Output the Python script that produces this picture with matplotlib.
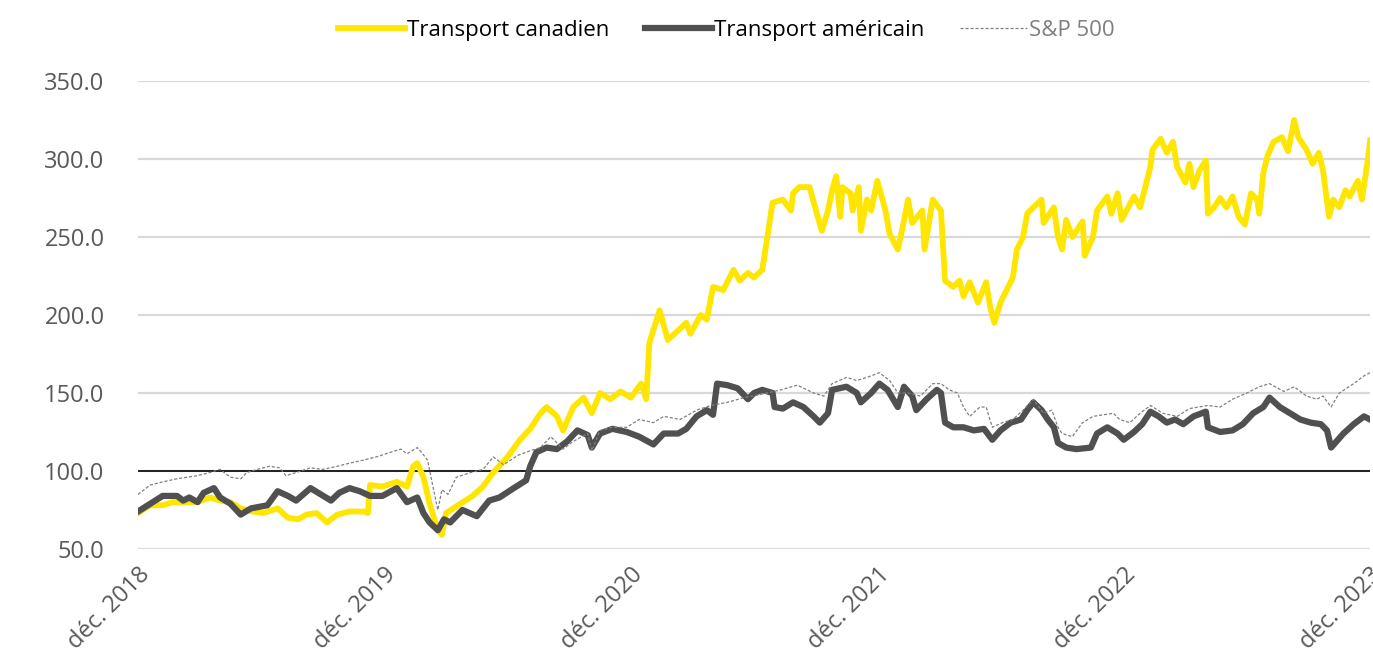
import pandas as pd
import matplotlib.pyplot as plt
import matplotlib.dates as mdates
from matplotlib.lines import Line2D

# months since déc. 2018 -> index value
can_m = [0.0, 0.6, 1.2, 1.7, 2.2, 2.9, 3.5, 4.0, 4.5, 5.0, 5.6, 6.1, 6.8, 7.3, 7.8, 8.2, 8.7, 9.2, 9.7,
         10.3, 11.0, 11.2, 11.3, 11.9, 12.6, 13.1, 13.4, 13.6, 13.9, 14.2, 14.6, 14.8, 15.0, 15.7,
         16.3, 16.8, 17.3, 18.0, 18.6, 19.1, 19.6, 19.9, 20.4, 20.7, 21.2, 21.7, 22.1, 22.5, 23.0,
         23.5, 24.0, 24.5, 24.75, 24.9, 25.4, 25.8, 26.3, 26.7, 26.9, 27.4, 27.7, 28.0, 28.5, 29.0,
         29.3, 29.7, 30.0, 30.4, 30.6, 30.9, 31.4, 31.8, 31.9, 32.2, 32.7, 33.1, 33.3, 33.6, 33.8,
         34.0, 34.2, 34.3, 34.7, 34.8, 35.1, 35.2, 35.5, 35.7, 36.0, 36.4, 36.6, 37.0, 37.2, 37.5,
         37.7, 38.2, 38.3, 38.7, 39.1, 39.3, 39.7, 40.0, 40.2, 40.5, 40.9, 41.3, 41.5, 41.7, 42.0,
         42.3, 42.6, 42.8, 43.1, 43.3, 43.6, 44.0, 44.1, 44.6, 44.8, 45.0, 45.2, 45.5, 46.0, 46.1,
         46.5, 46.7, 47.2, 47.4, 47.7, 47.9, 48.5, 48.8, 49.3, 49.4, 49.8, 50.1, 50.4, 50.6, 51.0,
         51.2, 51.4, 51.7, 52.0, 52.1, 52.4, 52.7, 53.0, 53.3, 53.6, 53.9, 54.2, 54.5, 54.6, 54.8,
         55.0, 55.3, 55.7, 56.0, 56.3, 56.5, 56.9, 57.2, 57.5, 57.7, 58.0, 58.2, 58.5, 58.8, 59.0,
         59.4, 59.6, 59.9, 60.0]
can_v = [73, 78, 78, 80, 80, 80, 83, 81, 80, 76, 74, 73, 76, 70, 69, 72, 73, 67, 72,
         74, 74, 73, 91, 90, 93, 90, 103, 105, 96, 79, 62, 59, 73, 79,
         84, 90, 99, 109, 120, 127, 137, 141, 135, 126, 141, 147, 137, 150, 146,
         151, 147, 156, 146, 182, 203, 184, 190, 195, 188, 200, 197, 218, 216, 229,
         222, 227, 224, 229, 246, 272, 274, 267, 278, 282, 282, 263, 254, 267, 280,
         289, 263, 282, 278, 267, 282, 254, 274, 267, 286, 267, 252, 242, 254, 274,
         259, 267, 242, 274, 267, 222, 218, 222, 212, 221, 208, 221, 205, 195, 208,
         216, 224, 242, 250, 265, 269, 274, 259, 269, 250, 242, 261, 250, 260, 238,
         250, 267, 276, 265, 278, 261, 276, 269, 295, 306, 313, 304, 311, 295, 285,
         297, 282, 293, 299, 265, 269, 275, 269, 276, 263, 258, 278, 274, 265, 291,
         302, 311, 314, 305, 325, 314, 306, 297, 304, 293, 263, 274, 269, 280, 276,
         286, 274, 301, 312]

us_m = [0.0, 0.6, 1.2, 1.9, 2.2, 2.5, 2.9, 3.2, 3.7, 4.0, 4.5, 5.0, 5.5, 5.9, 6.3, 6.8, 7.3, 7.7,
        8.4, 8.9, 9.4, 9.8, 10.3, 10.8, 11.3, 11.9, 12.6, 13.1, 13.6, 13.9, 14.2, 14.6, 14.9, 15.2,
        15.8, 16.5, 17.1, 17.6, 18.3, 18.9, 19.1, 19.4, 19.9, 20.4, 20.9, 21.4, 21.9, 22.1, 22.5,
        23.1, 23.8, 24.4, 25.1, 25.6, 26.3, 26.7, 27.2, 27.7, 28.0, 28.2, 28.7, 29.2, 29.7, 30.0,
        30.4, 30.9, 31.0, 31.4, 31.9, 32.4, 32.9, 33.2, 33.6, 33.8, 34.5, 35.0, 35.2, 35.7, 36.1,
        36.5, 37.0, 37.3, 37.7, 37.9, 38.4, 38.9, 39.1, 39.3, 39.7, 40.2, 40.7, 41.2, 41.6, 42.0,
        42.5, 43.0, 43.3, 43.6, 44.0, 44.3, 44.6, 44.8, 45.2, 45.7, 46.4, 46.7, 47.2, 47.7, 48.0,
        48.5, 48.9, 49.3, 49.7, 50.1, 50.5, 50.9, 51.4, 52.0, 52.1, 52.7, 53.3, 53.8, 54.3, 54.8,
        55.1, 55.6, 56.1, 56.6, 57.1, 57.6, 57.9, 58.1, 58.7, 59.2, 59.7, 60.0]
us_v = [74, 79, 84, 84, 81, 83, 80, 86, 89, 83, 79, 72, 76, 77, 78, 87, 84, 81,
        89, 85, 81, 86, 89, 87, 84, 84, 89, 80, 83, 73, 67, 62, 69, 67,
        75, 71, 81, 83, 89, 94, 103, 112, 115, 114, 119, 126, 123, 115, 124,
        127, 125, 122, 117, 124, 124, 127, 135, 139, 136, 156, 155, 153, 146, 150,
        152, 150, 141, 140, 144, 141, 135, 131, 137, 152, 154, 150, 144, 150, 156,
        152, 141, 154, 148, 139, 146, 152, 150, 131, 128, 128, 126, 127, 120, 126,
        131, 133, 139, 144, 139, 133, 128, 118, 115, 114, 115, 124, 128, 124, 120,
        125, 130, 138, 135, 131, 133, 130, 135, 138, 128, 125, 126, 130, 137, 141,
        147, 141, 137, 133, 131, 130, 126, 115, 124, 130, 135, 133]

sp_m = [0.0, 0.6, 1.2, 1.9, 2.4, 2.9, 3.5, 4.0, 4.5, 5.0, 5.3, 5.8, 6.4, 6.9, 7.2, 7.7, 8.4, 9.0,
        9.7, 10.3, 11.0, 11.6, 12.3, 12.8, 13.1, 13.6, 13.8, 14.1, 14.3, 14.6, 14.8, 15.1, 15.5,
        16.2, 16.8, 17.3, 17.8, 18.5, 19.1, 19.6, 20.1, 20.7, 21.2, 21.9, 22.1, 22.5, 23.1, 23.8,
        24.4, 25.1, 25.6, 26.4, 27.2, 27.9, 28.7, 29.5, 30.3, 31.3, 32.1, 32.9, 33.4, 33.8, 34.5,
        35.0, 35.5, 36.1, 36.6, 37.0, 37.5, 38.1, 38.7, 39.1, 39.5, 39.9, 40.2, 40.5, 41.0, 41.3,
        41.6, 42.1, 42.6, 43.1, 43.6, 44.1, 44.5, 44.8, 45.0, 45.5, 46.0, 46.5, 47.0, 47.5, 47.8,
        48.3, 48.8, 49.3, 49.9, 50.6, 51.2, 52.1, 52.7, 53.3, 54.0, 54.6, 55.1, 55.8, 56.3, 56.9,
        57.4, 57.7, 58.1, 58.5, 59.2, 59.7, 60.0]
sp_v = [85, 91, 93, 95, 96, 97, 99, 101, 96, 95, 99, 101, 103, 102, 97, 99, 102, 101,
        103, 105, 107, 109, 112, 114, 111, 115, 112, 107, 94, 75, 88, 85, 96,
        99, 101, 109, 104, 110, 113, 115, 122, 114, 119, 124, 113, 126, 128, 128,
        133, 131, 135, 133, 139, 142, 144, 147, 149, 152, 155, 150, 148, 156, 160,
        158, 160, 163, 158, 150, 150, 148, 156, 156, 152, 150, 141, 135, 141, 141,
        128, 131, 133, 139, 146, 137, 139, 128, 124, 122, 131, 135, 136, 137, 133,
        131, 137, 142, 137, 135, 140, 142, 141, 146, 150, 154, 156, 151, 154, 148,
        146, 148, 141, 150, 156, 161, 163]

tick_years = [2018, 2019, 2020, 2021, 2022, 2023]
labels = ['Transport canadien', 'Transport américain', 'S&P 500']

start = pd.Timestamp('2018-12-01')


def to_dates(months):
    return [start + pd.Timedelta(days=m * 30.4375) for m in months]


plt.rcParams['font.family'] = ['Open Sans', 'DejaVu Sans']

fig = plt.figure(figsize=(13.73, 6.59), dpi=100)
ax = fig.add_axes([0.1005, 0.167, 0.8973, 0.710])

yellow = '#FFE600'
dark = '#505050'

ax.axhline(100, color='black', lw=1.2, zorder=1)
ax.plot(to_dates(can_m), can_v, color=yellow, lw=4.2, solid_joinstyle='round', zorder=2)
ax.plot(to_dates(us_m), us_v, color=dark, lw=4.5, solid_joinstyle='round', zorder=3)
ax.plot(to_dates(sp_m), sp_v, color='#808080', lw=0.9, ls=(0, (2.5, 1.5)), zorder=4)

ax.set_ylim(50, 350)
ax.set_yticks(range(50, 351, 50))
ax.yaxis.set_major_formatter(plt.FuncFormatter(lambda v, p: f'{v:.1f}'))
ax.grid(axis='y', color='#d9d9d9', lw=1.6, zorder=0)
ax.set_axisbelow(True)

ticks = [pd.Timestamp(f'{y}-12-01') for y in tick_years]
ax.set_xlim(ticks[0], ticks[-1])
ax.set_xticks(ticks)
ax.set_xticklabels([f'déc. {y}' for y in tick_years], rotation=45, ha='right',
                   rotation_mode='anchor')

for s in ax.spines.values():
    s.set_visible(False)
ax.tick_params(axis='both', length=0, labelsize=17, colors='#595959')
ax.tick_params(axis='y', pad=24)
ax.tick_params(axis='x', pad=10)

handles = [Line2D([], [], color=yellow, lw=4.2),
           Line2D([], [], color=dark, lw=4.5),
           Line2D([], [], color='#808080', lw=0.9, ls=(0, (2.5, 1.5)))]
leg = fig.legend(handles, labels, loc='upper center', bbox_to_anchor=(0.529, 1.0), ncol=3,
                 frameon=False, fontsize=16, handlelength=3.0, handletextpad=0.1,
                 columnspacing=1.6)
leg.get_texts()[2].set_color('#7f7f7f')

fig.savefig('out.png', dpi=100)
